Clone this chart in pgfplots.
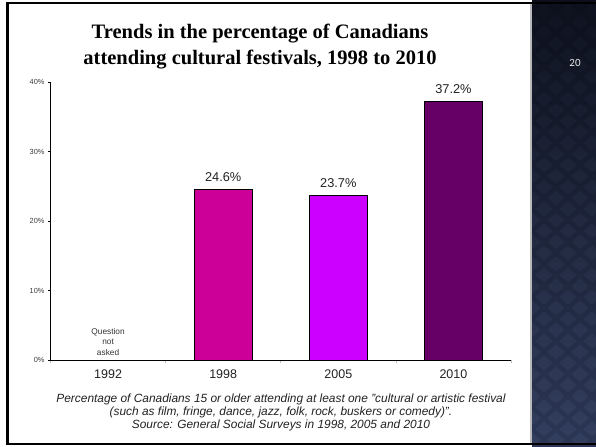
\documentclass[border=0pt]{standalone}
\usepackage{pgfplots}
\pgfplotsset{compat=1.18}
\usepackage{fontspec}
\setmainfont{Liberation Sans}
\newfontfamily\titlefont{Liberation Serif}
\newfontfamily\numfont{Carlito}
\definecolor{c98}{HTML}{CC0099}
\definecolor{c05}{HTML}{CC00FF}
\definecolor{c10}{HTML}{660066}
\definecolor{paneltop}{HTML}{0C0F1B}
\definecolor{panelbot}{HTML}{2C3756}
\definecolor{diam}{HTML}{6A7AA0}
\definecolor{txt}{HTML}{222222}
\begin{document}
\begin{tikzpicture}[x=1bp,y=1bp]
\useasboundingbox (0,0) rectangle (596,447);
\fill[white] (0,0) rectangle (596,447);
\shade[top color=paneltop, bottom color=panelbot] (532,0) rectangle (596,447);
\begin{scope}
\clip (532,4) rectangle (596,443);
\foreach \row in {0,...,42} {
  \foreach \col in {0,...,3} {
    \pgfmathsetmacro\cx{532 + \col*24 + mod(\row,2)*12}
    \pgfmathsetmacro\cy{447 - \row*11}
    \pgfmathsetmacro\op{0.03 + 0.10*(\row/42)}
    \fill[diam, opacity=\op] (\cx,\cy+7.5) -- (\cx+8.5,\cy) -- (\cx,\cy-7.5) -- (\cx-8.5,\cy) -- cycle;
  }
}
\end{scope}
\draw[gray!55, line width=1.4] (531,4) -- (531,443);
\draw[black, line width=2.2] (7.5,443.5) -- (7.5,3.5);
\draw[black, line width=2.2] (6.4,443.8) -- (596,443.8);
\draw[black, line width=2.2] (6.4,3.3) -- (596,3.3);
\node[anchor=base, font=\titlefont\bfseries\fontsize{20.5bp}{24bp}\selectfont, text=black] at (260,408) {Trends in the percentage of Canadians};
\node[anchor=base, font=\titlefont\bfseries\fontsize{20.5bp}{24bp}\selectfont, text=black] at (260,382) {attending cultural festivals, 1998 to 2010};
\node[font=\numfont\fontsize{11bp}{13bp}\selectfont, text=white!85!gray] at (575,384) {20};
\begin{axis}[
  at={(50.5bp,87bp)}, anchor=south west, scale only axis,
  width=460.5bp, height=278bp,
  xmin=-0.5, xmax=3.5, ymin=0, ymax=40,
  axis x line*=bottom, axis y line*=left,
  axis line style={black, line width=0.9bp, -},
  ybar, bar width=58bp,
  xtick={0,1,2,3}, xticklabels={1992,1998,2005,2010},
  minor xtick={-0.5,0.5,1.5,2.5,3.5},
  ytick={0,10,20,30,40},
  yticklabel={\pgfmathprintnumber{\tick}\%},
  /pgf/number format/assume math mode=true,
  tick align=outside,
  major tick length=2.5bp, minor tick length=3bp,
  major x tick style={draw=none},
  minor x tick style={gray!50, line width=0.6bp},
  y tick style={black, line width=0.6bp},
  yticklabel style={font=\fontsize{7.4bp}{8bp}\selectfont, text=black!75},
  xticklabel style={font=\fontsize{12.5bp}{14bp}\selectfont, text=txt, yshift=-4bp},
  nodes near coords={\pgfmathprintnumber[fixed,fixed zerofill,precision=1]{\pgfplotspointmeta}\%},
  every node near coord/.append style={font=\fontsize{12.8bp}{14bp}\selectfont, text=txt, anchor=south, inner sep=0pt, yshift=7.5bp},
  clip=false,
]
\addplot[bar shift=0pt, fill=c98, draw=black, line width=0.6bp] coordinates {(1,24.6)};
\addplot[bar shift=0pt, fill=c05, draw=black, line width=0.6bp] coordinates {(2,23.7)};
\addplot[bar shift=0pt, fill=c10, draw=black, line width=0.6bp] coordinates {(3,37.2)};
\node[align=center, font=\fontsize{8.3bp}{10.4bp}\selectfont, text=black!80] at (axis cs:0,2.63) {Question\\not\\asked};
\end{axis}
\node[anchor=base, font=\itshape\fontsize{11.9bp}{13bp}\selectfont, text=txt] at (281,44) {Percentage of Canadians 15 or older attending at least one "cultural or artistic festival};
\node[anchor=base, font=\itshape\fontsize{11.9bp}{13bp}\selectfont, text=txt] at (281,31.5) {(such as film, fringe, dance, jazz, folk, rock, buskers or comedy)".};
\node[anchor=base, font=\itshape\fontsize{11.9bp}{13bp}\selectfont, text=txt] at (281,18.5) {Source: General Social Surveys in 1998, 2005 and 2010};
\end{tikzpicture}
\end{document}
